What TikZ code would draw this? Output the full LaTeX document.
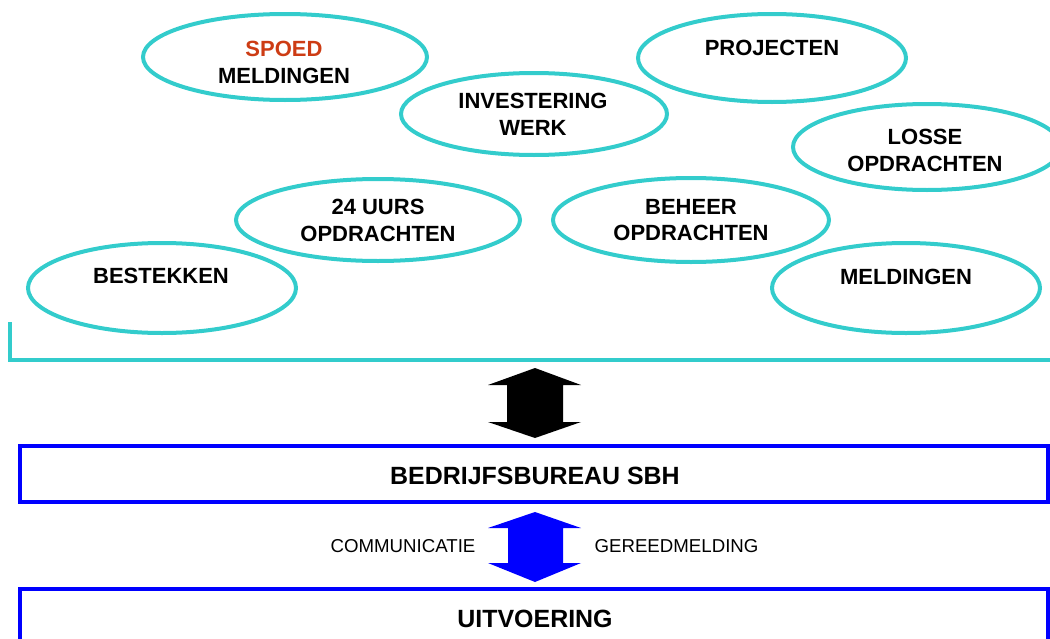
\documentclass[tikz,border=0pt]{standalone}
\usepackage{fontspec}
\setmainfont{Liberation Sans}
\usetikzlibrary{shapes.geometric}
\definecolor{cyanline}{RGB}{51,204,204}
\definecolor{spoedred}{RGB}{205,60,20}
\definecolor{boxblue}{RGB}{0,0,255}
\tikzset{
  ell/.style={draw=cyanline, line width=3pt, ellipse, inner sep=0pt},
  etxt/.style={anchor=north, inner sep=0pt, align=center, font=\fontsize{16.5}{19.9}\selectfont\bfseries},
  btxt/.style={anchor=north, inner sep=0pt, font=\fontsize{18.7}{22}\selectfont\bfseries},
  stxt/.style={anchor=north, inner sep=0pt, font=\fontsize{14}{16}\selectfont},
  bluebox/.style={draw=boxblue, line width=3pt},
  bracketline/.style={draw=cyanline, line width=3pt},
}
\begin{document}
\begin{tikzpicture}[x=0.75pt,y=-0.75pt]
\useasboundingbox (0,0) rectangle (1050,639);
\begin{scope}
\clip (0,0) rectangle (1050,639);
% ellipses
\node[ell, minimum width=1.5*142pt, minimum height=1.5*43pt] (e1) at (285,57) {};
\node[ell, minimum width=1.5*134pt, minimum height=1.5*44pt] (e2) at (772,58) {};
\node[ell, minimum width=1.5*133pt, minimum height=1.5*41pt] (e3) at (534,114) {};
\node[ell, minimum width=1.5*134pt, minimum height=1.5*43pt] (e4) at (927,147) {};
\node[ell, minimum width=1.5*142pt, minimum height=1.5*41pt] (e5) at (378,220) {};
\node[ell, minimum width=1.5*138pt, minimum height=1.5*42pt] (e6) at (691,220) {};
\node[ell, minimum width=1.5*134pt, minimum height=1.5*45pt] (e7) at (162,288) {};
\node[ell, minimum width=1.5*134pt, minimum height=1.5*45pt] (e8) at (906,288) {};
% texts
\node[etxt] (t1) at (284,41) {\textcolor{spoedred}{SPOED}\\MELDINGEN};
\node[etxt] (t2) at (772,40) {PROJECTEN};
\node[etxt] (t3) at (533,93) {INVESTERING\\WERK};
\node[etxt] (t4) at (925,129) {LOSSE\\OPDRACHTEN};
\node[etxt] (t5) at (378,199) {24 UURS\\OPDRACHTEN};
\node[etxt] (t6) at (691,199) {BEHEER\\OPDRACHTEN};
\node[etxt] (t7) at (161,268) {BESTEKKEN};
\node[etxt] (t8) at (906,269) {MELDINGEN};
% bracket
\coordinate (b1) at (10,322);
\coordinate (b2) at (10,360);
\coordinate (b3) at (1060,360);
\draw[bracketline] (b1) -- (b2) -- (b3);
% black double arrow
\fill[black] (535,368) -- (488,385) -- (507,385) -- (507,422) -- (488,422) -- (535,438)
  -- (581,422) -- (563,422) -- (563,385) -- (581,385) -- cycle;
% boxes
\draw[bluebox] (20,446) rectangle (1048,502);
\node[btxt] (bb) at (535,467) {BEDRIJFSBUREAU SBH};
% blue double arrow
\fill[boxblue] (535,512) -- (488,528) -- (508,528) -- (508,563) -- (488,563) -- (535,582)
  -- (581,563) -- (563,563) -- (563,528) -- (581,528) -- cycle;
\node[stxt] (c1) at (403,539.5) {COMMUNICATIE};
\node[stxt] (c2) at (676.5,539.5) {GEREEDMELDING};
\draw[bluebox] (20,660) -- (20,589) -- (1048,589) -- (1048,660);
\node[btxt] (uv) at (535,610) {UITVOERING};
\end{scope}
\end{tikzpicture}
\end{document}
